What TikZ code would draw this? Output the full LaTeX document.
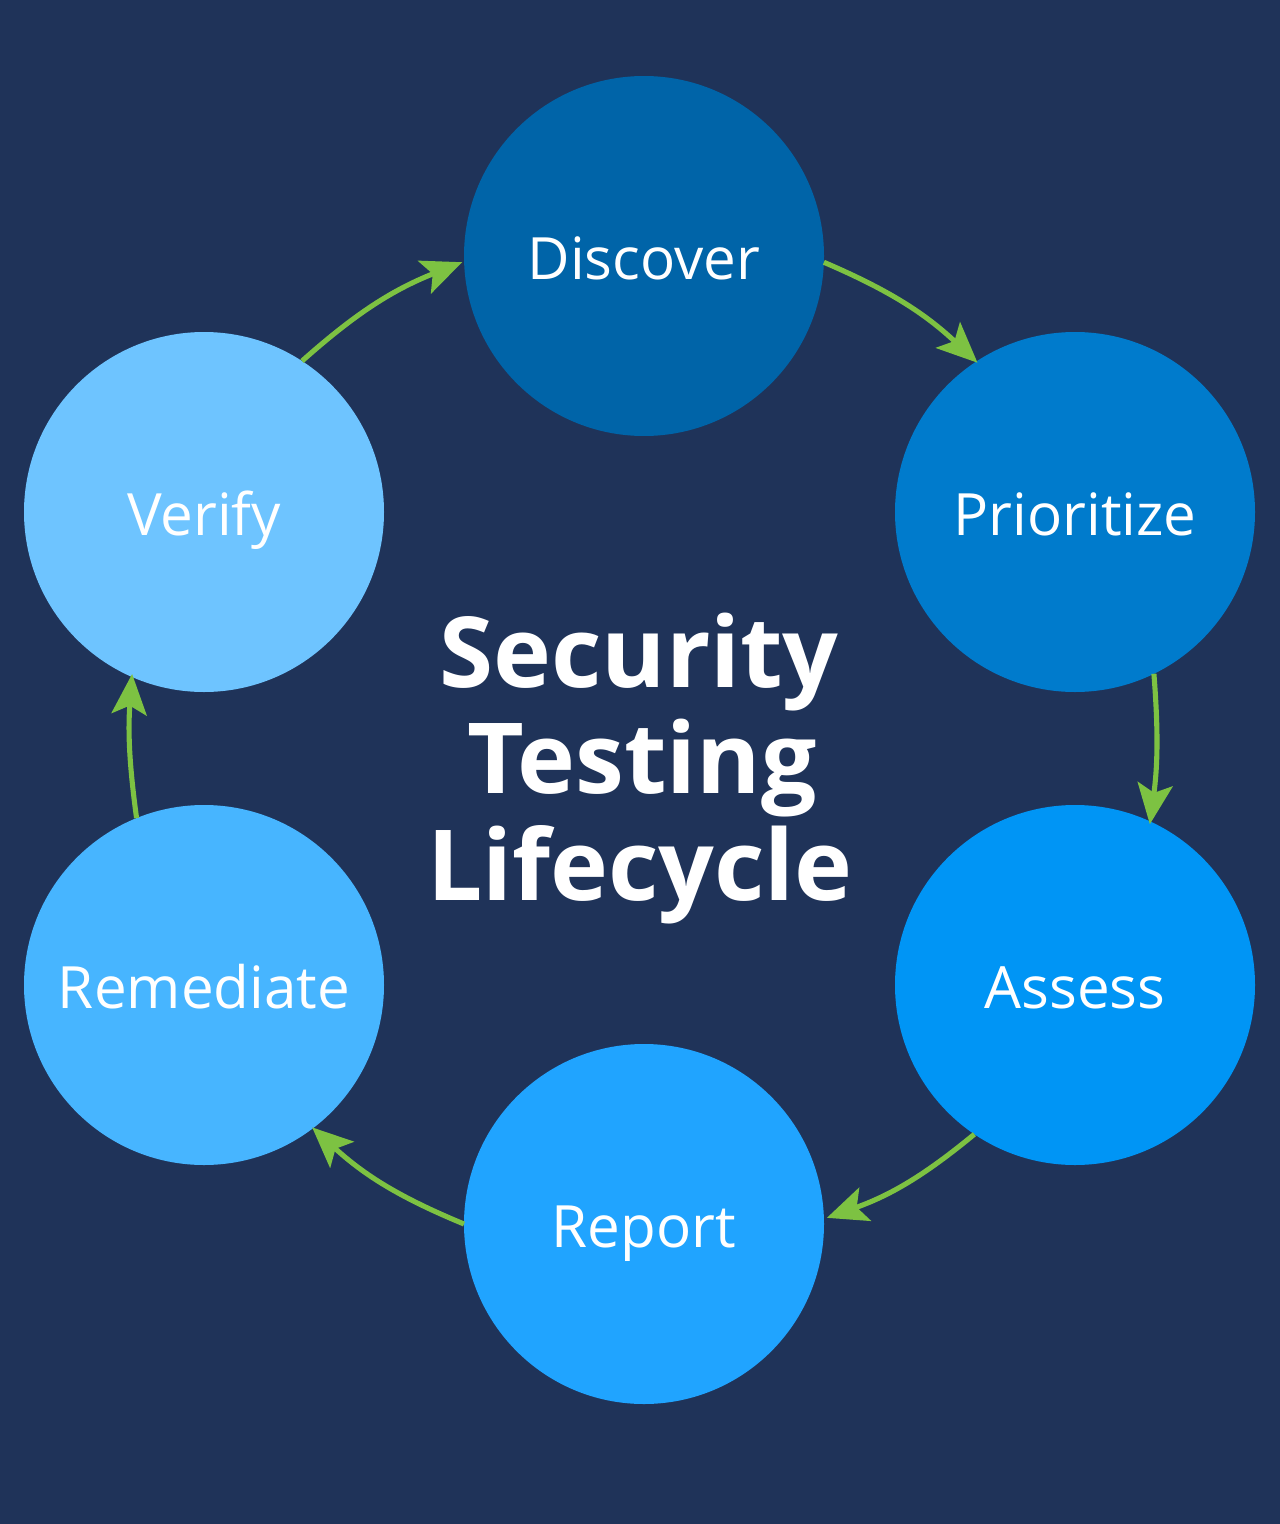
\documentclass[tikz,border=0pt]{standalone}
\usepackage{fontspec}
\setmainfont{Open Sans}
\usetikzlibrary{arrows.meta}
\definecolor{bgnavy}{HTML}{1F3359}
\definecolor{cDisc}{HTML}{0064A8}
\definecolor{cPrio}{HTML}{007BCC}
\definecolor{cAsse}{HTML}{0095F5}
\definecolor{cRepo}{HTML}{20A4FF}
\definecolor{cReme}{HTML}{47B5FF}
\definecolor{cVeri}{HTML}{6EC4FF}
\definecolor{arrgreen}{HTML}{7DC242}
\tikzset{
  stage/.style={circle, minimum size=360*0.02cm, inner sep=0pt, outer sep=0pt, draw=none},
  lbl/.style={anchor=base, text=white, font=\fontsize{33.2}{40}\selectfont},
  ttl/.style={anchor=base, text=white, font=\fontsize{55.8}{60}\selectfont\bfseries},
  flow/.style={draw=arrgreen, line width=2.9pt, -{Stealth[length=23pt,width=20pt,inset=5pt]}}
}
\begin{document}
\begin{tikzpicture}[x=0.02cm,y=-0.02cm]
\fill[bgnavy] (0,0) rectangle (1280,1524);
\useasboundingbox (0,0) rectangle (1280,1524);
\node[stage, fill=cDisc] (disc) at (644,256) {};
\node[stage, fill=cPrio] (prio) at (1075,512) {};
\node[stage, fill=cAsse] (asse) at (1075,985) {};
\node[stage, fill=cRepo] (repo) at (644,1224) {};
\node[stage, fill=cReme] (reme) at (204,985) {};
\node[stage, fill=cVeri] (veri) at (204,512) {};
\node[lbl] (tdisc) at (644,279) {Discover};
\node[lbl] (tprio) at (1075,535) {Prioritize};
\node[lbl] (tasse) at (1075,1008) {Assess};
\node[lbl] (trepo) at (644,1247) {Report};
\node[lbl] (treme) at (204,1008) {Remediate};
\node[lbl] (tveri) at (204,535) {Verify};
\node[ttl] (t1) at (639,687) {Security};
\node[ttl] (t2) at (642,793) {Testing};
\node[ttl] (t3) at (640,900) {Lifecycle};
\draw[flow] (disc.-2) to[bend left=10] ([shift={(122:4)}]prio.122);
\draw[flow] (prio.-64) to[bend left=6] ([shift={(66:4)}]asse.66);
\draw[flow] (asse.-124) to[bend left=10] ([shift={(2:3)}]repo.2);
\draw[flow] (repo.180) to[bend left=10] ([shift={(-54:4)}]reme.-54);
\draw[flow] (reme.112) to[bend left=6] ([shift={(247:4)}]veri.247);
\draw[flow] (veri.57) to[bend left=10] ([shift={(182:2)}]disc.182);
\end{tikzpicture}
\end{document}
